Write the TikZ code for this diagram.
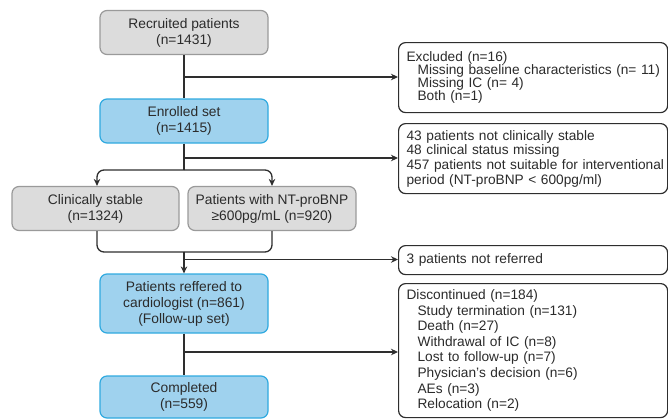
\documentclass[tikz,border=0pt]{standalone}
\usepackage{fontspec}
\setmainfont{Liberation Sans}
\usetikzlibrary{arrows.meta}
\definecolor{txt}{HTML}{2B2B2B}
\definecolor{grayfill}{HTML}{DCDCDC}
\definecolor{grayline}{HTML}{9A9A9A}
\definecolor{bluefill}{HTML}{9FD2EE}
\definecolor{blueline}{HTML}{30AAE0}
\definecolor{conn}{HTML}{2E2E2E}
\tikzset{
  mainbox/.style={rounded corners=7pt, line width=1.2pt, minimum width=168pt, minimum height=44pt,
    align=center, text=txt, inner sep=2pt, font=\fontsize{13.8}{16}\selectfont},
  graybox/.style={mainbox, fill=grayfill, draw=grayline},
  bluebox/.style={mainbox, fill=bluefill, draw=blueline},
  rbox/.style={rounded corners=7pt, line width=1.2pt, draw=conn, fill=white, text=txt,
    anchor=north west, minimum width=269pt, text width=253pt, inner xsep=8pt, inner ysep=0pt, align=left},
  conline/.style={line width=1.3pt, draw=conn},
  arr/.style={conline, -{Stealth[length=7pt,width=6.5pt]}},
}
\newcommand{\ind}{\hspace*{11pt}}
\begin{document}
\begin{tikzpicture}[x=1pt,y=-1pt]
\useasboundingbox (0,0) rectangle (668,418);
% main column
\node[graybox] (rec) at (184,32.5) {Recruited patients\\(n=1431)};
\node[bluebox] (enr) at (184,121) {Enrolled set\\(n=1415)};
\node[graybox, minimum width=167pt] (cs) at (95.5,208.5) {Clinically stable\\(n=1324)};
\node[graybox, minimum width=168pt] (nt) at (272,208.5) {Patients with NT-proBNP\\≥600pg/mL (n=920)};
\node[bluebox, minimum height=59pt] (ref) at (184,303.5) {Patients reffered to\\cardiologist (n=861)\\(Follow-up set)};
\node[bluebox, minimum height=42pt] (comp) at (184,397) {Completed\\(n=559)};
% right boxes
\node[rbox, minimum height=70pt, font=\fontsize{13.7}{13.2}\selectfont] (ex) at (398,42)
  {Excluded (n=16)\\\ind \mbox{Missing baseline characteristics (n= 11)}\\\ind Missing IC (n= 4)\\\ind Both (n=1)};
\node[rbox, minimum height=70pt, font=\fontsize{13.7}{14.6}\selectfont] (ns) at (398,123)
  {43 patients not clinically stable\\48 clinical status missing\\\mbox{457 patients not suitable for interventional}\\period (NT-proBNP < 600pg/ml)};
\node[rbox, minimum height=29pt, font=\fontsize{13.7}{16}\selectfont] (nr) at (398,245)
  {3 patients not referred};
\node[rbox, minimum height=134pt, font=\fontsize{13.7}{15.6}\selectfont] (disc) at (398,283)
  {Discontinued (n=184)\\\ind Study termination (n=131)\\\ind Death (n=27)\\\ind Withdrawal of IC (n=8)\\\ind Lost to follow-up (n=7)\\\ind Physician's decision (n=6)\\\ind AEs (n=3)\\\ind Relocation (n=2)};
% coordinates
\coordinate (split) at (184,170);
\coordinate (merge) at (184,252);
\coordinate (b1) at (184,77);
\coordinate (b2) at (184,158);
\coordinate (b3) at (184,259.5);
\coordinate (b4) at (184,352);
% connectors
\draw[conline] (rec.south) -- (enr.north);
\draw[arr] (b1) -- (b1 -| ex.west);
\draw[conline] (enr.south) -- (split);
\draw[arr] (b2) -- (b2 -| ns.west);
\draw[arr, rounded corners=7pt] (split) -| ([xshift=1.5pt]cs.north);
\draw[arr, rounded corners=7pt] (split) -| (nt.north);
\draw[conline, rounded corners=7pt] ([xshift=1.5pt]cs.south) |- (merge);
\draw[conline, rounded corners=7pt] (nt.south) |- (merge);
\draw[arr] (merge) -- (ref.north);
\draw[arr] (b3) -- (b3 -| nr.west);
\draw[conline] (ref.south) -- (comp.north);
\draw[arr] (b4) -- (b4 -| disc.west);
\end{tikzpicture}
\end{document}
